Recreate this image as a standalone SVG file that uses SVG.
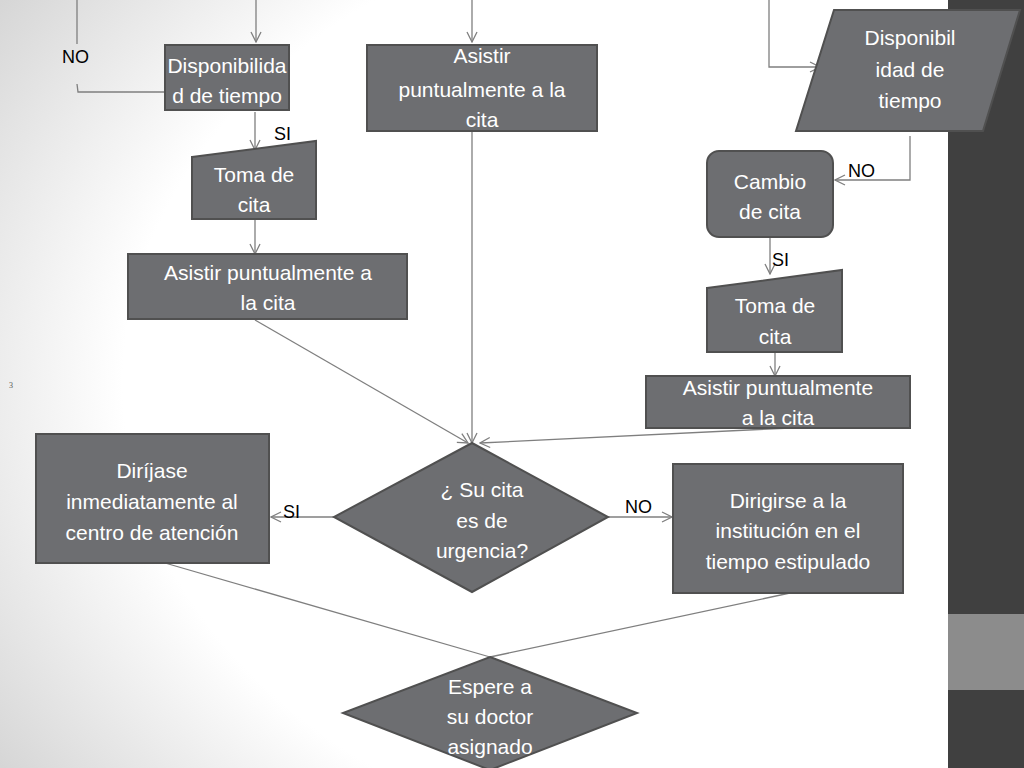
<svg xmlns="http://www.w3.org/2000/svg" width="1024" height="768" viewBox="0 0 1024 768">
<defs>
<radialGradient id="bg" cx="0.75" cy="0.5" r="0.9">
<stop offset="0.7" stop-color="#ffffff"/><stop offset="1" stop-color="#d6d6d6"/>
</radialGradient>
<marker id="ar" viewBox="0 0 12 12" refX="11" refY="6" markerWidth="12" markerHeight="12" markerUnits="userSpaceOnUse" orient="auto">
<path d="M1,1 L11,6 L1,11" fill="none" stroke="#7f7f7f" stroke-width="1.3"/>
</marker>
<style>
.n{fill:#6d6e71;stroke:#505050;stroke-width:2}
.t{fill:#ffffff;font-family:"Liberation Sans",Arial,sans-serif;font-size:21px;text-anchor:middle}
.l{fill:#000000;font-family:"Liberation Sans",Arial,sans-serif;font-size:18px}
.c path{fill:none;stroke:#7f7f7f;stroke-width:1.3}
.a{marker-end:url(#ar)}
</style>
</defs>
<rect width="1024" height="768" fill="url(#bg)"/>
<rect x="948" y="0" width="76" height="768" fill="#404040"/>
<rect x="948" y="614" width="76" height="76" fill="#8c8c8c"/>
<text x="9" y="388" font-family="Liberation Serif,serif" font-size="8" fill="#555">3</text>
<g class="c">
<path d="M77,0 V44"/>
<path d="M77,84 L78,92 H165"/>
<path class="a" d="M256,0 V42"/>
<path class="a" d="M472,0 V42"/>
<path class="a" d="M255,112 V150"/>
<path class="a" d="M255,219 V254"/>
<path class="a" d="M769,0 V67 H820"/>
<path class="a" d="M910,136 V180 H835"/>
<path class="a" d="M770,237 V274"/>
<path class="a" d="M775,352 V376"/>
<path class="a" d="M255,320 L468,443"/>
<path class="a" d="M472,131 V443"/>
<path class="a" d="M790,428 L480,443"/>
<path class="a" d="M334,517 H271"/>
<path class="a" d="M608,517 H672"/>
<path d="M165,563 L490,657"/>
<path d="M790,593 L490,657"/>
</g>
<g id="labels">
<text class="l" x="62" y="63">NO</text>
<text class="l" x="274" y="140">SI</text>
<text class="l" x="848" y="177">NO</text>
<text class="l" x="772" y="266">SI</text>
<text class="l" x="283" y="518">SI</text>
<text class="l" x="625" y="513">NO</text>
</g>
<g id="disp1"><rect class="n" x="165" y="45" width="124" height="65"/>
<text class="t" x="227" y="73">Disponibilida</text><text class="t" x="227" y="103">d de tiempo</text></g>
<g id="asistir1"><rect class="n" x="367" y="45" width="230" height="86"/>
<text class="t" x="482" y="63">Asistir</text><text class="t" x="482" y="97">puntualmente a la</text><text class="t" x="482" y="127">cita</text></g>
<g id="toma1"><path class="n" d="M192,157 L316,141 V219 H192 Z"/>
<text class="t" x="254" y="182">Toma de</text><text class="t" x="254" y="212">cita</text></g>
<g id="asistir2"><rect class="n" x="128" y="254" width="279" height="65"/>
<text class="t" x="268" y="280">Asistir puntualmente a</text><text class="t" x="268" y="310">la cita</text></g>
<g id="disp2"><path class="n" d="M834,10 H1020 L983,131 H796 Z"/>
<text class="t" x="910" y="45">Disponibil</text><text class="t" x="910" y="77">idad de</text><text class="t" x="910" y="108">tiempo</text></g>
<g id="cambio"><rect class="n" x="707" y="151" width="126" height="86" rx="12"/>
<text class="t" x="770" y="189">Cambio</text><text class="t" x="770" y="219">de cita</text></g>
<g id="toma2"><path class="n" d="M707,288 L842,270 V352 H707 Z"/>
<text class="t" x="775" y="313">Toma de</text><text class="t" x="775" y="344">cita</text></g>
<g id="asistir3"><rect class="n" x="646" y="376" width="264" height="52"/>
<text class="t" x="778" y="395">Asistir puntualmente</text><text class="t" x="778" y="425">a la cita</text></g>
<g id="urgencia"><path class="n" d="M472,443 L608,517 L472,592 L334,517 Z"/>
<text class="t" x="482" y="497">¿ Su cita</text><text class="t" x="482" y="528">es de</text><text class="t" x="482" y="558">urgencia?</text></g>
<g id="dirijase"><rect class="n" x="36" y="434" width="233" height="129"/>
<text class="t" x="152" y="478">Diríjase</text><text class="t" x="152" y="509">inmediatamente al</text><text class="t" x="152" y="540">centro de atención</text></g>
<g id="dirigirse"><rect class="n" x="673" y="464" width="230" height="129"/>
<text class="t" x="788" y="508">Dirigirse a la</text><text class="t" x="788" y="538">institución en el</text><text class="t" x="788" y="569">tiempo estipulado</text></g>
<g id="espere"><path class="n" d="M490,657 L637,713 L490,770 L343,713 Z"/>
<text class="t" x="490" y="694">Espere a</text><text class="t" x="490" y="724">su doctor</text><text class="t" x="490" y="754">asignado</text></g>
</svg>
